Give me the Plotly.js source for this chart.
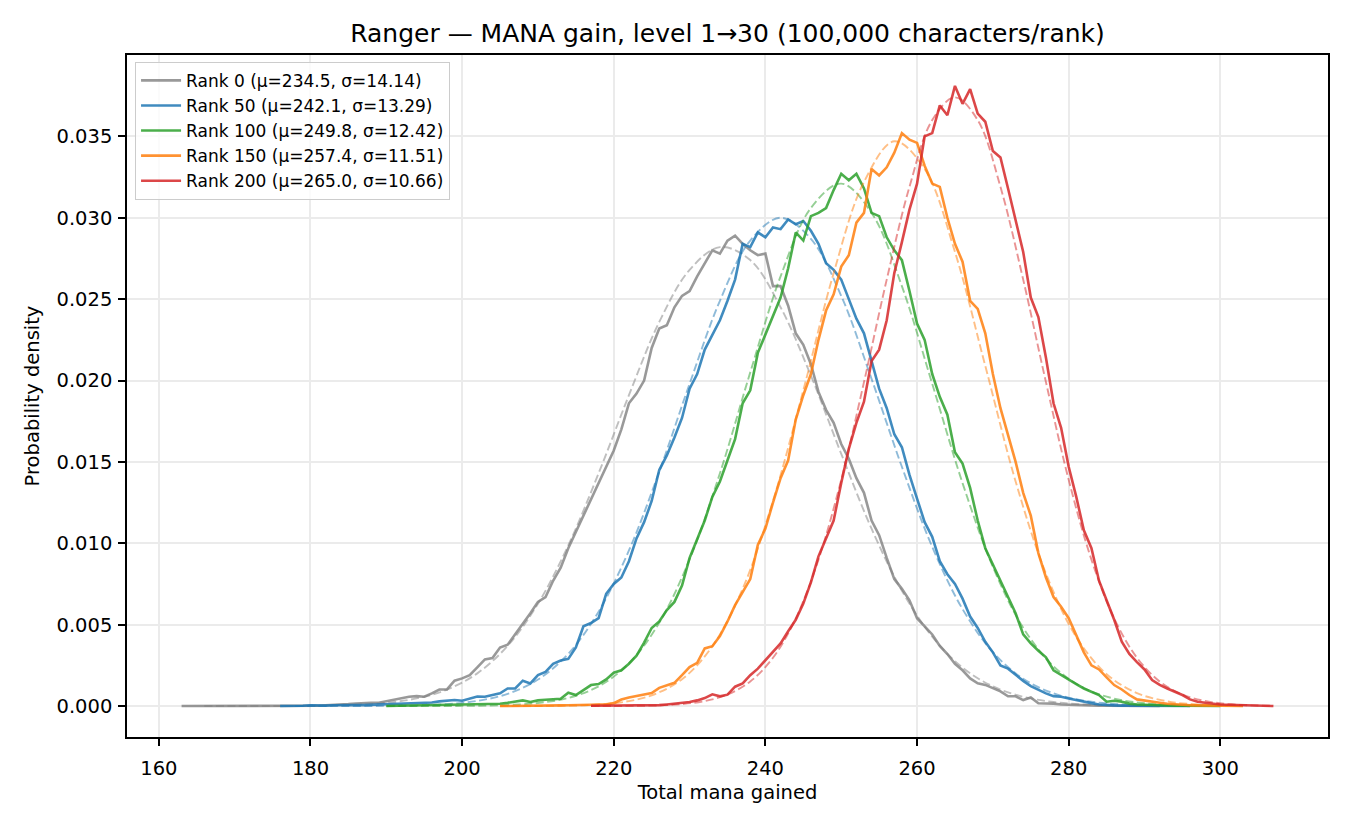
<!DOCTYPE html>
<html>
<head>
<meta charset="utf-8">
<script src="https://cdn.plot.ly/plotly-3.0.1.min.js"></script>
<style>
  html, body { margin: 0; padding: 0; background: #ffffff; }
  #app { width: 1350px; height: 825px; }
</style>
</head>
<body>
<div id="app"></div>
<script>
// legend labels and colours (r,g,b) for each rank
const rankNames = [
    "Rank 0 (μ=234.5, σ=14.14)",
    "Rank 50 (μ=242.1, σ=13.29)",
    "Rank 100 (μ=249.8, σ=12.42)",
    "Rank 150 (μ=257.4, σ=11.51)",
    "Rank 200 (μ=265.0, σ=10.66)"
];
const rankColors = ["128,128,128", "31,119,180", "44,160,44", "255,127,14", "214,39,40"];
const rankAlphas = [0.8, 0.85, 0.85, 0.85, 0.85];

// first mana value of each histogram (one value per mana point after that)
const rankStarts = [163, 176, 190, 205, 217];

const rank0Density = [
    0, 0, 0, 0, 0, 0, 0, 0, 0, 0, 0, 0, 0, 0, 0, 0,
    0.00001, 0.00003, 0.00002, 0.00005, 0.00006, 0.0001,
    0.00012, 0.00016, 0.0002, 0.0002, 0.0002, 0.00029, 0.00041, 0.00051, 0.00057, 0.00061,
    0.00057, 0.00078, 0.00102, 0.00102, 0.00156, 0.0017, 0.0019, 0.00238, 0.00287, 0.00295,
    0.0036, 0.00377, 0.0044, 0.005, 0.0057, 0.0064, 0.0067, 0.0077, 0.0085, 0.0097,
    0.0107, 0.0118, 0.01275, 0.0137, 0.0148, 0.0157, 0.017, 0.0186, 0.0192, 0.02,
    0.022, 0.0232, 0.0234, 0.0245, 0.0252, 0.0255, 0.0264, 0.0272, 0.028, 0.0278,
    0.0286, 0.0289, 0.0284, 0.028, 0.0277, 0.0278, 0.0258, 0.0258, 0.0246, 0.0229,
    0.0222, 0.021, 0.0193, 0.0182, 0.0174, 0.0161, 0.0152, 0.014, 0.0131, 0.0114,
    0.0105, 0.0091, 0.0078, 0.0072, 0.0065, 0.0054, 0.0049, 0.0044, 0.0037, 0.0032,
    0.0026, 0.0022, 0.0017, 0.0014, 0.0013, 0.0011, 0.0009, 0.0006, 0.0006, 0.00037,
    0.00053, 0.00017, 0.00017, 0.00015, 0.0001, 0.00008, 0.00005, 0.00005, 0.00003, 0.00003,
    0.00002, 0.00002, 0.00001, 0.00001, 0, 0, 0, 0
];
const rank50Density = [
    0, 0, 0, 0.00002, 0.00005, 0.00003, 0.00003, 0.00005, 0.00004,
    0.00005, 0.00006, 0.00006, 0.00008, 0.0001, 0.00012, 0.00014, 0.00016, 0.00018, 0.0002,
    0.0002, 0.00022, 0.00029, 0.00035, 0.00037, 0.00033, 0.00045, 0.00059, 0.00057, 0.00066,
    0.00078, 0.00108, 0.00108, 0.00156, 0.00139, 0.0019, 0.0021, 0.0026, 0.0028, 0.0029,
    0.0036, 0.0049, 0.0051, 0.0054, 0.0069, 0.0075, 0.0079, 0.0089, 0.0103, 0.0113,
    0.0126, 0.0145, 0.0154, 0.0165, 0.0177, 0.0195, 0.0204, 0.0219, 0.0228, 0.0237,
    0.0249, 0.0262, 0.0284, 0.0282, 0.0291, 0.0288, 0.0294, 0.0293, 0.0299, 0.0296,
    0.0298, 0.0292, 0.0284, 0.0272, 0.0268, 0.0262, 0.025, 0.0238, 0.0229, 0.0212,
    0.0195, 0.0183, 0.0167, 0.0159, 0.0142, 0.01275, 0.0113, 0.0104, 0.0089, 0.0081,
    0.0075, 0.0066, 0.0055, 0.0048, 0.00395, 0.0033, 0.0025, 0.0023, 0.0019, 0.00155,
    0.00123, 0.00098, 0.00078, 0.00061, 0.00057, 0.00047, 0.00037, 0.00025, 0.00018, 0.0001,
    0.00006, 0.00004, 0.00003, 0.00003, 0.00002, 0.00001, 0.00001, 0, 0, 0, 0, 0
];
const rank100Density = [
    0, 0.00001, 0.00001, 0.00002, 0.00002,
    0.00003, 0.00003, 0.00004, 0.00005, 0.00005, 0.00006, 0.00007, 0.00008, 0.0001, 0.00012,
    0.00014, 0.0002, 0.00027, 0.00035, 0.00025, 0.00035, 0.00039, 0.00041, 0.00045, 0.00082,
    0.00068, 0.00098, 0.00129, 0.00135, 0.00164, 0.00205, 0.0022, 0.0026, 0.0031, 0.0039,
    0.0048, 0.0052, 0.0059, 0.0064, 0.0074, 0.0091, 0.0102, 0.0114, 0.01285, 0.0138,
    0.0151, 0.0164, 0.0186, 0.0194, 0.0217, 0.0228, 0.024, 0.0251, 0.0269, 0.0291,
    0.0286, 0.0301, 0.0303, 0.0306, 0.0317, 0.0327, 0.0323, 0.0327, 0.0318, 0.0303,
    0.0301, 0.0288, 0.028, 0.0274, 0.0255, 0.0235, 0.0225, 0.0204, 0.019, 0.0179,
    0.0156, 0.0149, 0.0134, 0.0114, 0.0097, 0.0087, 0.0077, 0.0067, 0.0057, 0.0044,
    0.00385, 0.0034, 0.003, 0.0022, 0.0019, 0.0016, 0.00135, 0.00108, 0.00088, 0.00068,
    0.00027, 0.00033, 0.00027, 0.00015, 0.0001, 0.00008, 0.00005, 0.00004, 0.00003, 0.00002,
    0.00002, 0.00001, 0.00001, 0, 0, 0
];
const rank150Density = [
    0, 0, 0.00001, 0.00001, 0.00002, 0.00002, 0.00003, 0.00003, 0.00004, 0.00005,
    0.00005, 0.00006, 0.00008, 0.0001, 0.0001, 0.00018, 0.0004, 0.00053, 0.00061, 0.00072,
    0.0008, 0.00112, 0.00126, 0.00143, 0.0019, 0.0024, 0.00266, 0.00354, 0.00368, 0.0043,
    0.0052, 0.0062, 0.007, 0.0078, 0.0099, 0.0109, 0.0125, 0.014, 0.0151, 0.0176,
    0.0191, 0.0204, 0.0225, 0.0243, 0.0253, 0.027, 0.0277, 0.0297, 0.0303, 0.033,
    0.0326, 0.0331, 0.034, 0.0352, 0.0348, 0.0346, 0.0332, 0.0321, 0.0319, 0.03,
    0.0284, 0.0273, 0.0249, 0.0244, 0.0229, 0.0204, 0.0183, 0.0167, 0.015, 0.0131,
    0.0117, 0.0094, 0.0079, 0.0067, 0.0061, 0.0054, 0.0044, 0.0033, 0.0025, 0.00225,
    0.00176, 0.00129, 0.00102, 0.00068, 0.00041, 0.00033, 0.00027, 0.0002, 0.00014, 0.0001,
    0.00008, 0.00005, 0.00004, 0.00003, 0.00002, 0.00001, 0.00001, 0, 0
];
const rank200Density = [
    0.00002, 0.00002, 0.00002, 0.00003, 0.00003, 0.00004, 0.00004, 0.00003, 0.00005, 0.00006,
    0.0001, 0.00014, 0.00018, 0.00025, 0.00035, 0.00049, 0.00072, 0.0006, 0.0007, 0.00119,
    0.00139, 0.0019, 0.0023, 0.0028, 0.0033, 0.00385, 0.0046, 0.0053, 0.0063, 0.0076,
    0.0092, 0.0103, 0.0114, 0.0137, 0.0158, 0.0174, 0.0187, 0.0212, 0.0219, 0.0237,
    0.0266, 0.0285, 0.0305, 0.0321, 0.035, 0.0352, 0.0369, 0.0363, 0.0381, 0.037,
    0.0379, 0.0364, 0.0359, 0.0341, 0.0337, 0.0318, 0.0298, 0.0279, 0.0251, 0.0239,
    0.0214, 0.0186, 0.0171, 0.0147, 0.01285, 0.0108, 0.0097, 0.0077, 0.0065, 0.0053,
    0.00395, 0.0032, 0.0027, 0.00225, 0.0016, 0.0013, 0.00108, 0.00088, 0.00068, 0.00041,
    0.00027, 0.0002, 0.00014, 0.0001, 0.00008, 0.00006, 0.00004, 0.00003, 0.00002, 0.00001, 0
];

// dashed fitted curves
const rank0FitX = [166, 170, 174, 178, 182, 186, 190, 194, 198, 202, 206, 210, 214, 218, 222, 226,
    230, 234, 238, 242, 246, 250, 254, 258, 262, 266, 270, 274, 278, 282, 286, 290];
const rank0FitY = [0, 0.000001, 0.000003, 0.00001, 0.000029, 0.00008, 0.0002, 0.00047, 0.00101,
    0.00201, 0.0037, 0.00629, 0.00987, 0.0143, 0.0191, 0.0236, 0.0268, 0.0282, 0.0274, 0.0245,
    0.0203, 0.0155, 0.0109, 0.00709, 0.00426, 0.00236, 0.00121, 0.00057, 0.00025, 0.0001,
    0.00004, 0.000013];
const rank50FitX = [178, 182, 186, 190, 194, 198, 202, 206, 210, 214, 218, 222, 226, 230, 234,
    238, 242, 246, 250, 254, 258, 262, 266, 270, 274, 278, 282, 286, 290, 294];
const rank50FitY = [0, 0.000001, 0.000004, 0.000014, 0.000043, 0.00012, 0.00032, 0.00075, 0.00163,
    0.00321, 0.0058, 0.00956, 0.0144, 0.0198, 0.0249, 0.0286, 0.03, 0.0287, 0.0252, 0.0201,
    0.0147, 0.00978, 0.00596, 0.00331, 0.00168, 0.00078, 0.00033, 0.00013, 0.000045, 0.000015];
const rank100FitX = [190, 194, 198, 202, 206, 210, 214, 218, 222, 226, 230, 234, 238, 242, 246,
    250, 254, 258, 262, 266, 270, 274, 278, 282, 286, 290, 294, 298];
const rank100FitY = [0, 0.000001, 0.000005, 0.00002, 0.000064, 0.00019, 0.0005, 0.00121, 0.00262,
    0.00512, 0.00901, 0.0143, 0.0205, 0.0264, 0.0306, 0.0321, 0.0303, 0.0258, 0.0198, 0.0137,
    0.00855, 0.00481, 0.00244, 0.00111, 0.00046, 0.00017, 0.000057, 0.000017];
const rank150FitX = [205, 209, 213, 217, 221, 225, 229, 233, 237, 241, 245, 249, 253, 257, 261,
    265, 269, 273, 277, 281, 285, 289, 293, 297, 301];
const rank150FitY = [0, 0.000005, 0.00002, 0.000073, 0.00023, 0.00066, 0.00165, 0.00367, 0.00721,
    0.0126, 0.0194, 0.0266, 0.0322, 0.0347, 0.033, 0.0279, 0.0209, 0.0138, 0.00814, 0.00424,
    0.00196, 0.0008, 0.00029, 0.000094, 0.000027];
const rank200FitX = [217, 220, 223, 226, 229, 232, 235, 238, 241, 244, 247, 250, 253, 256, 259,
    262, 265, 268, 271, 274, 277, 280, 283, 286, 289, 292, 295, 298, 301, 304, 307];
const rank200FitY = [0, 0.000005, 0.000016, 0.000046, 0.000125, 0.00031, 0.00071, 0.00151, 0.00297,
    0.00538, 0.009, 0.0139, 0.0199, 0.0262, 0.0319, 0.036, 0.0374, 0.036, 0.0319, 0.0262, 0.0199,
    0.0139, 0.009, 0.00538, 0.00297, 0.00151, 0.00071, 0.00031, 0.000125, 0.000046, 0.000016];

// axis ticks
const xTicks = [160, 180, 200, 220, 240, 260, 280, 300];
const yTicks = [0, 0.005, 0.01, 0.015, 0.02, 0.025, 0.03, 0.035];

function manaAxis(start, count) {
    /**
     * Builds the mana values for a histogram that starts at `start`.
     */

    let xs = [];
    for (let i = 0; i < count; i++) {
        xs.push(start + i);
    }
    return xs;
}

function display() {
    /**
     * Draws the density chart.
     */

    let root = document.getElementById("app");
    let font = "DejaVu Sans, Verdana, sans-serif";

    let densities = [rank0Density, rank50Density, rank100Density, rank150Density, rank200Density];
    let fitXs = [rank0FitX, rank50FitX, rank100FitX, rank150FitX, rank200FitX];
    let fitYs = [rank0FitY, rank50FitY, rank100FitY, rank150FitY, rank200FitY];

    // observed line then fitted dashed line for every rank
    let data = [];
    for (let i = 0; i < densities.length; i++) {
        let color = rankColors[i];
        data.push({
            x: manaAxis(rankStarts[i], densities[i].length),
            y: densities[i],
            type: "scatter",
            mode: "lines",
            name: rankNames[i],
            hoverinfo: "skip",
            line: {color: "rgba(" + color + "," + rankAlphas[i] + ")", width: 2.6}
        });
        data.push({
            x: fitXs[i],
            y: fitYs[i],
            type: "scatter",
            mode: "lines",
            showlegend: false,
            hoverinfo: "skip",
            line: {color: "rgba(" + color + ",0.5)", width: 1.9, dash: "8px,3.5px", shape: "spline"}
        });
    }

    let axis = {
        showline: true,
        linecolor: "#000000",
        linewidth: 1.6,
        mirror: true,
        ticks: "outside",
        ticklen: 7,
        tickwidth: 1.6,
        tickcolor: "#000000",
        showgrid: true,
        gridcolor: "#ebebeb",
        gridwidth: 1.5,
        zeroline: false,
        tickfont: {family: font, size: 19.5, color: "#000000"}
    };

    let layout = {
        width: 1350,
        height: 825,
        paper_bgcolor: "#ffffff",
        plot_bgcolor: "#ffffff",
        margin: {l: 127, r: 22, t: 55, b: 88},
        font: {family: font, color: "#000000"},
        title: {
            text: "Ranger — MANA gain, level 1→30 (100,000 characters/rank)",
            font: {family: font, size: 25, color: "#000000"},
            x: 0.5,
            xref: "paper",
            y: 0.96,
            yref: "container",
            yanchor: "middle"
        },
        xaxis: Object.assign({}, axis, {
            range: [155.8, 314.2],
            tickvals: xTicks,
            ticktext: xTicks.map(String),
            ticklabelstandoff: 6,
            title: {text: "Total mana gained", font: {family: font, size: 19.5}, standoff: 6}
        }),
        yaxis: Object.assign({}, axis, {
            range: [-0.0019, 0.0400],
            tickvals: yTicks,
            tickformat: ".3f",
            ticklabelstandoff: 2,
            title: {text: "Probability density", font: {family: font, size: 19.5}, standoff: 12}
        }),
        showlegend: true,
        legend: {
            x: 0.0067,
            y: 0.99,
            xanchor: "left",
            yanchor: "top",
            bgcolor: "rgba(255,255,255,0.8)",
            bordercolor: "#cccccc",
            borderwidth: 1,
            itemwidth: 40,
            tracegroupgap: 0,
            font: {family: font, size: 17, color: "#000000"}
        }
    };

    let config = {displayModeBar: false, responsive: false};

    Plotly.newPlot(root, data, layout, config);
}

display();
</script>
</body>
</html>
